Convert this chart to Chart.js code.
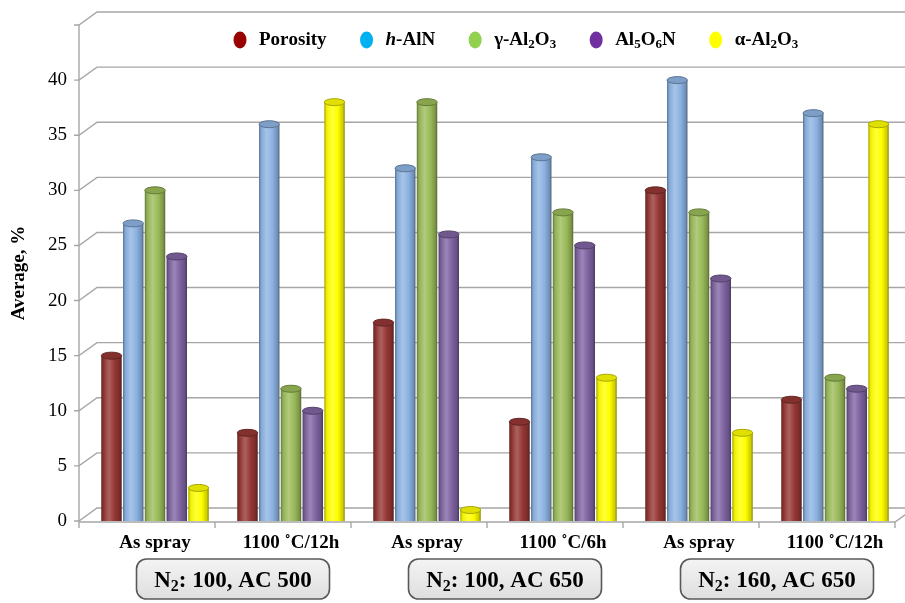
<!DOCTYPE html>
<html><head><meta charset="utf-8">
<script src="https://cdn.jsdelivr.net/npm/chart.js@4.4.0/dist/chart.umd.min.js"></script>
<style>html,body{margin:0;padding:0;background:#fff;}</style>
</head><body>
<canvas id="c" width="905" height="603"></canvas>
<script>
// ---- data ----
const categories = ['As spray', '1100 ˚C/12h', 'As spray', '1100 ˚C/6h', 'As spray', '1100 ˚C/12h'];
const groupLabels = ['N2: 100, AC 500', 'N2: 100, AC 650', 'N2: 160, AC 650'];
const seriesNames = ['Porosity', 'h-AlN', 'γ-Al2O3', 'Al5O6N', 'α-Al2O3'];
const porosity   = [15, 8, 18, 9, 30, 11];
const hAlN       = [27, 36, 32, 33, 40, 37];
const gammaAl2O3 = [30, 12, 38, 28, 28, 13];
const al5O6N     = [24, 10, 26, 25, 22, 12];
const alphaAl2O3 = [3, 38, 1, 13, 8, 36];
const yTickStep = 5, yMax = 45;

// ---- styles ----
const barColors = ['#953735', '#8db3e2', '#9bbb59', '#8064a2', '#ffff00'];
const legendColors = ['#990000', '#00b0f0', '#92d050', '#7030a0', '#ffff00'];
const SERIF = '"Liberation Serif", "Times New Roman", serif';

function shade(hex, amt) {
  const n = parseInt(hex.slice(1), 16);
  let r = n >> 16, g = (n >> 8) & 255, b = n & 255;
  const t = amt < 0 ? 0 : 255, p = Math.abs(amt);
  r = Math.round(r + (t - r) * p); g = Math.round(g + (t - g) * p); b = Math.round(b + (t - b) * p);
  return `rgb(${r},${g},${b})`;
}

// rich text: subscripts for digits after letters, italic leading "h-"
function segments(str) {
  const segs = [];
  for (let i = 0; i < str.length; i++) {
    const ch = str[i];
    let type = 'n';
    if (/[0-9]/.test(ch) && i > 0 && /[A-Za-z]/.test(str[i - 1])) type = 's';
    else if (i === 0 && /[a-z]/.test(ch) && str[1] === '-') type = 'i';
    segs.push({ t: ch, type });
  }
  return segs;
}
function fontFor(type, size) {
  if (type === 's') return `bold ${Math.round(size * 0.68)}px ${SERIF}`;
  if (type === 'i') return `italic bold ${size}px ${SERIF}`;
  return `bold ${size}px ${SERIF}`;
}
function richWidth(ctx, str, size) {
  let w = 0;
  segments(str).forEach(s => { ctx.font = fontFor(s.type, size); w += ctx.measureText(s.t).width; });
  return w;
}
function drawRich(ctx, str, x, y, size, color) {
  ctx.save();
  ctx.fillStyle = color; ctx.textBaseline = 'middle'; ctx.textAlign = 'left';
  segments(str).forEach(s => {
    ctx.font = fontFor(s.type, size);
    ctx.fillText(s.t, x, s.type === 's' ? y + size * 0.25 : y);
    x += ctx.measureText(s.t).width;
  });
  ctx.restore();
  return x;
}

const depthX = 18, depthY = 13, frontShift = 8;

const grid3d = {
  id: 'grid3d',
  beforeDatasetsDraw(chart) {
    const { ctx, chartArea: a, scales: { x, y } } = chart;
    const fx = a.left - frontShift;
    ctx.save();
    ctx.strokeStyle = '#a6a6a6'; ctx.lineWidth = 1.4;
    y.ticks.forEach(t => {
      const py = y.getPixelForValue(t.value);
      ctx.beginPath();
      ctx.moveTo(fx - 5, py); ctx.lineTo(fx, py);
      ctx.lineTo(fx + depthX, py - depthY); ctx.lineTo(chart.width, py - depthY);
      ctx.stroke();
    });
    // front vertical axis
    ctx.beginPath();
    ctx.moveTo(fx, y.getPixelForValue(0) + 1); ctx.lineTo(fx, y.getPixelForValue(yMax));
    ctx.stroke();
    // floor front edge
    const y0 = y.getPixelForValue(0) + 1;
    const rightFront = a.right - frontShift;
    ctx.beginPath();
    ctx.moveTo(fx, y0); ctx.lineTo(rightFront, y0); ctx.lineTo(rightFront + depthX, y0 - depthY);
    ctx.stroke();
    // category ticks
    for (let i = 0; i <= categories.length; i++) {
      const px = a.left + (a.right - a.left) * i / categories.length - frontShift;
      ctx.beginPath(); ctx.moveTo(px, y0); ctx.lineTo(px, y0 + 6); ctx.stroke();
    }
    ctx.restore();
  }
};

const cylinder = {
  id: 'cylinder',
  beforeDatasetDraw(chart, args) {
    const base = barColors[args.index];
    args.meta.data.forEach(el => {
      const { x, width } = el.getProps(['x', 'width'], true);
      const g = chart.ctx.createLinearGradient(x - width / 2, 0, x + width / 2, 0);
      g.addColorStop(0, shade(base, -0.35));
      g.addColorStop(0.12, shade(base, -0.05));
      g.addColorStop(0.38, shade(base, 0.22));
      g.addColorStop(0.65, base);
      g.addColorStop(0.9, shade(base, -0.2));
      g.addColorStop(1, shade(base, -0.45));
      el.options = Object.assign({}, el.options, { backgroundColor: g, borderWidth: 0 });
    });
  },
  afterDatasetDraw(chart, args) {
    const ctx = chart.ctx, base = barColors[args.index];
    args.meta.data.forEach(el => {
      const { x, y, width } = el.getProps(['x', 'y', 'width'], true);
      ctx.save();
      ctx.beginPath();
      ctx.ellipse(x, y, width / 2, 3.5, 0, 0, Math.PI * 2);
      ctx.fillStyle = shade(base, -0.12);
      ctx.fill();
      ctx.lineWidth = 1; ctx.strokeStyle = shade(base, -0.35);
      ctx.stroke();
      ctx.restore();
    });
  }
};

const extras = {
  id: 'extras',
  afterDraw(chart) {
    const { ctx, scales: { x } } = chart;
    // legend
    let lx = 240; const ly = 40, fs = 19;
    seriesNames.forEach((name, i) => {
      ctx.save();
      ctx.beginPath(); ctx.ellipse(lx, ly, 6.5, 8.5, 0, 0, Math.PI * 2);
      ctx.fillStyle = legendColors[i]; ctx.fill();
      ctx.restore();
      const end = drawRich(ctx, name, lx + 19, ly, fs, '#000');
      lx = end + 40;
    });
    // group boxes
    groupLabels.forEach((g, i) => {
      const cx = (x.getPixelForValue(2 * i) + x.getPixelForValue(2 * i + 1)) / 2 + 10;
      const w = 193, h = 40, top = 559;
      ctx.save();
      ctx.beginPath();
      ctx.roundRect(cx - w / 2, top, w, h, 10);
      const gr = ctx.createLinearGradient(0, top, 0, top + h);
      gr.addColorStop(0, '#f4f4f4'); gr.addColorStop(1, '#dedede');
      ctx.fillStyle = gr; ctx.fill();
      ctx.lineWidth = 1.6; ctx.strokeStyle = '#595959'; ctx.stroke();
      ctx.restore();
      const size = 23;
      const tw = richWidth(ctx, g, size);
      drawRich(ctx, g, cx - tw / 2, top + h / 2 + 2, size, '#000');
    });
  }
};

const datasets = [porosity, hAlN, gammaAl2O3, al5O6N, alphaAl2O3].map((d, i) => ({
  label: seriesNames[i], data: d, backgroundColor: barColors[i], borderWidth: 0,
  categoryPercentage: 0.8, barPercentage: 0.94
}));

new Chart(document.getElementById('c'), {
  type: 'bar',
  data: { labels: categories, datasets },
  plugins: [grid3d, cylinder, extras],
  options: {
    responsive: false, animation: false,
    layout: { padding: { left: 4, right: 2, top: 25, bottom: 47 } },
    plugins: { legend: { display: false }, tooltip: { enabled: false } },
    scales: {
      x: {
        grid: { display: false, drawTicks: false }, border: { display: false },
        ticks: { color: '#000', font: { family: SERIF, size: 19, weight: 'bold' }, padding: 11, maxRotation: 0, autoSkip: false },
        afterFit(s) { s.height = 35; s.paddingLeft = 0; s.paddingRight = 0; }
      },
      y: {
        min: 0, max: yMax,
        grid: { display: false, drawTicks: false }, border: { display: false },
        ticks: { stepSize: yTickStep, color: '#000', padding: 20,
          font: { family: SERIF, size: 19 },
          callback: v => (v >= yMax ? '' : v) },
        title: { display: true, text: 'Average, %', color: '#000', padding: { top: 4, bottom: 0 },
          font: { family: SERIF, size: 19, weight: 'bold' } },
        afterFit(s) { s.width = 83; s.paddingTop = 0; s.paddingBottom = 0; }
      }
    }
  }
});
</script>
</body></html>
